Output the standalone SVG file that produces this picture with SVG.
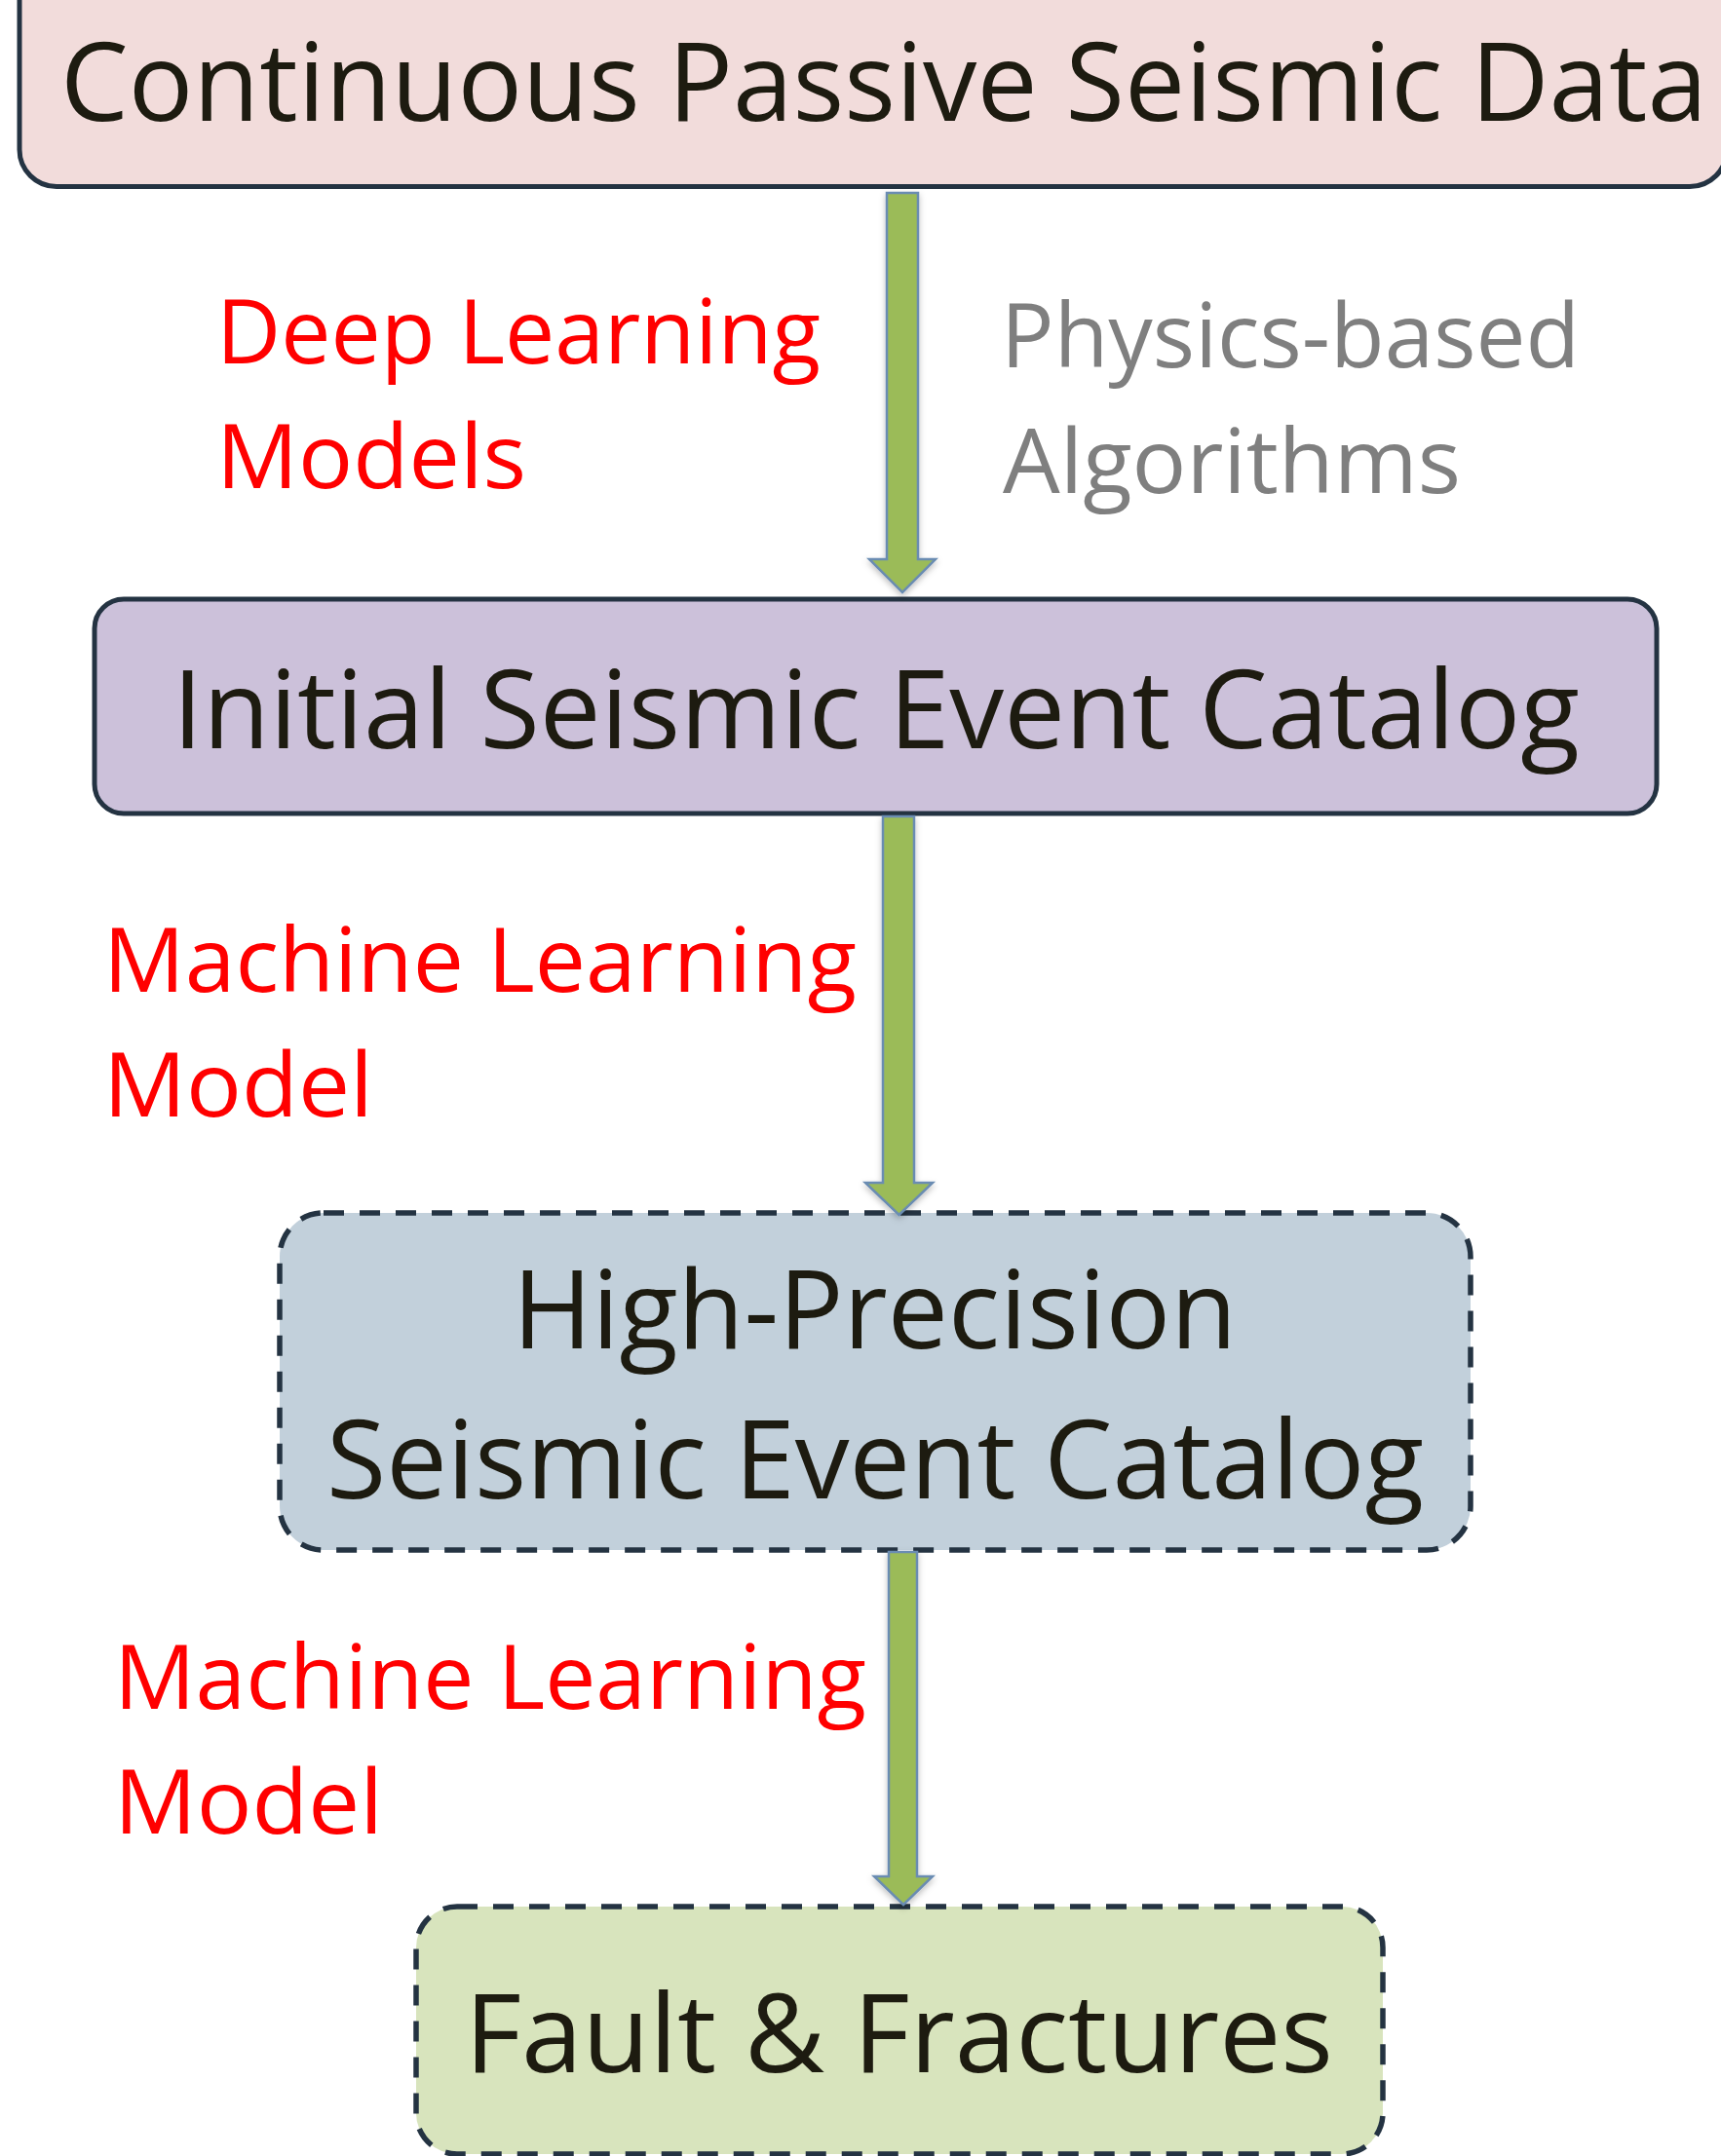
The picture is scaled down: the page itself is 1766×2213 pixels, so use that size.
<svg xmlns="http://www.w3.org/2000/svg" width="1766" height="2213" viewBox="0 0 1766 2213">
<style>
.box{stroke:#243342;stroke-width:5}
.dash{stroke-dasharray:21 16;stroke-width:5.5}
.t{font-family:"Open Sans","Noto Sans",sans-serif;font-size:112px;fill:#1D1B10}
.lbl{font-family:"Open Sans","Noto Sans",sans-serif;font-size:91px}
.red{fill:#FF0000}
.gray{fill:#7F7F7F}
.arrow{fill:#9BBB59;stroke:#6A8CB2;stroke-width:2.5;stroke-linejoin:miter}
</style>
<defs>
<filter id="sh" x="-50%" y="-10%" width="200%" height="130%">
<feDropShadow dx="0" dy="3" stdDeviation="3" flood-color="#000" flood-opacity="0.25"/>
</filter>
</defs>
<rect width="1766" height="2213" fill="#FFFFFF"/>
<g id="node-continuous">
<rect class="box" x="20" y="-40" width="1752" height="231.5" rx="38" fill="#F2DCDB"/>
<text class="t" x="62" y="124" textLength="1690" lengthAdjust="spacingAndGlyphs">Continuous Passive Seismic Data</text>
</g>
<g id="node-initial">
<rect class="box" x="97" y="615" width="1603" height="220" rx="30" fill="#CCC1DA"/>
<text class="t" x="177" y="768" textLength="1444" lengthAdjust="spacingAndGlyphs">Initial Seismic Event Catalog</text>
</g>
<g id="node-highprecision">
<rect class="box dash" x="287" y="1245" width="1222" height="346" rx="45" fill="#C2D0DB"/>
<text class="t" x="526" y="1384" textLength="743" lengthAdjust="spacingAndGlyphs">High-Precision</text>
<text class="t" x="335" y="1538" textLength="1126" lengthAdjust="spacingAndGlyphs">Seismic Event Catalog</text>
</g>
<g id="node-fault">
<rect class="box dash" x="427" y="1957" width="992" height="254" rx="42" fill="#D8E4BD"/>
<text class="t" x="477" y="2127" textLength="891" lengthAdjust="spacingAndGlyphs">Fault &amp; Fractures</text>
</g>
<g id="connectors">
<polygon class="arrow" filter="url(#sh)" points="910,198 942,198 942,574 960,574 926,608 892,574 910,574"/>
<polygon class="arrow" filter="url(#sh)" points="906,838 938,838 938,1214 957,1214 922.5,1247 888,1214 906,1214"/>
<polygon class="arrow" filter="url(#sh)" points="912,1593 941,1593 941,1926 957,1926 927,1955 897,1926 912,1926"/>
</g>
<g id="labels">
<text class="lbl red" x="222" y="373" textLength="620" lengthAdjust="spacingAndGlyphs">Deep Learning</text>
<text class="lbl red" x="222" y="501" textLength="318" lengthAdjust="spacingAndGlyphs">Models</text>
<text class="lbl gray" x="1027" y="377" textLength="594" lengthAdjust="spacingAndGlyphs">Physics-based</text>
<text class="lbl gray" x="1029" y="506" textLength="470" lengthAdjust="spacingAndGlyphs">Algorithms</text>
<text class="lbl red" x="106" y="1018" textLength="773" lengthAdjust="spacingAndGlyphs">Machine Learning</text>
<text class="lbl red" x="106" y="1146" textLength="277" lengthAdjust="spacingAndGlyphs">Model</text>
<text class="lbl red" x="117" y="1754" textLength="772" lengthAdjust="spacingAndGlyphs">Machine Learning</text>
<text class="lbl red" x="117" y="1882" textLength="276" lengthAdjust="spacingAndGlyphs">Model</text>
</g>
</svg>
